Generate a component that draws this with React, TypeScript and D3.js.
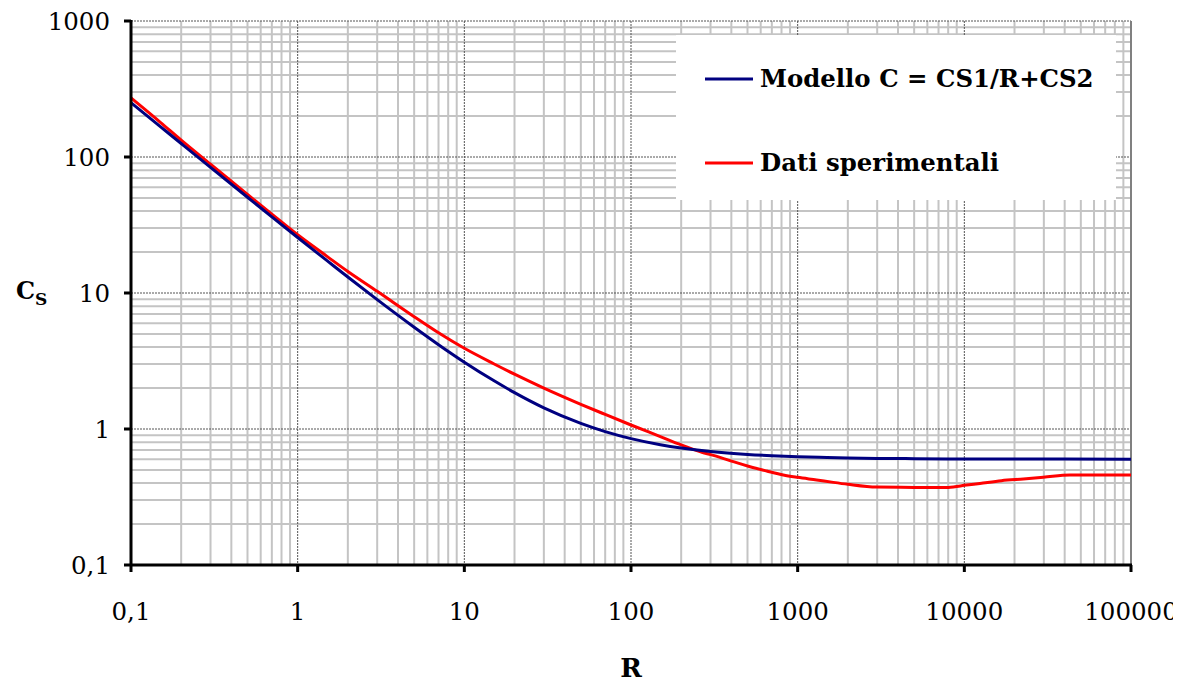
import React from "react";
import * as d3 from "d3";

// Resistance ratio R (x) for the fitted model, log scale
const modelR = [
  0.1, 0.15, 0.2, 0.3, 0.5, 0.7, 1, 1.5, 2, 3, 5, 7, 10, 15, 20, 30, 50, 70, 100,
  150, 200, 300, 500, 700, 1000, 1500, 2000, 3000, 5000, 8000, 10000, 15000,
  25000, 40000, 100000,
];

// Model C = CS1/R + CS2
const modelC = [
  250.6, 167.3, 125.6, 83.9, 50.6, 36.3, 25.6, 17.3, 13.1, 8.93, 5.6, 4.17, 3.1,
  2.27, 1.85, 1.43, 1.1, 0.957, 0.85, 0.767, 0.725, 0.683, 0.65, 0.636, 0.625,
  0.617, 0.6125, 0.608, 0.605, 0.603, 0.6025, 0.6017, 0.601, 0.6006, 0.6003,
];

// Experimental data
const expR = [
  0.1, 0.15, 0.2, 0.3, 0.5, 0.7, 1, 1.5, 2, 3, 5, 7, 10, 15, 20, 30, 50, 70, 100,
  150, 200, 259, 342, 411, 518, 652, 820, 1000, 1300, 1636, 2000, 2980, 5000,
  8020, 10320, 12400, 16700, 22600, 29800, 43000, 100000,
];
const expC = [
  272, 180, 133, 88.5, 53, 38, 26.8, 18.6, 14.4, 10.3, 6.7, 5.1, 3.92, 3.02,
  2.53, 2.0, 1.52, 1.28, 1.07, 0.88, 0.765, 0.683, 0.619, 0.575, 0.528, 0.491,
  0.459, 0.441, 0.422, 0.405, 0.392, 0.374, 0.372, 0.372, 0.387, 0.398, 0.417,
  0.429, 0.441, 0.459, 0.459,
];

const xTickValues = [0.1, 1, 10, 100, 1000, 10000, 100000];
const xTickLabels = ["0,1", "1", "10", "100", "1000", "10000", "100000"];
const yTickValues = [0.1, 1, 10, 100, 1000];
const yTickLabels = ["0,1", "1", "10", "100", "1000"];

const legendItems = [
  { label: "Modello C = CS1/R+CS2", color: "#000080" },
  { label: "Dati sperimentali", color: "#ff0000" },
];

const W = 1194;
const H = 684;
const left = 131;
const right = 1131;
const top = 21;
const bottom = 565;

const serif = "'DejaVu Serif', serif";

export default function App() {
  const x = d3.scaleLog().domain([0.1, 100000]).range([left, right]);
  const y = d3.scaleLog().domain([0.1, 1000]).range([bottom, top]);

  const minorX: number[] = [];
  for (let d = 0.1; d < 100000; d *= 10) {
    for (let m = 2; m <= 9; m++) minorX.push(+(m * d).toPrecision(6));
  }
  const minorY: number[] = [];
  for (let d = 0.1; d < 1000; d *= 10) {
    for (let m = 2; m <= 9; m++) minorY.push(+(m * d).toPrecision(6));
  }

  const line = d3
    .line<[number, number]>()
    .x((p) => x(p[0]))
    .y((p) => y(p[1]))
    .curve(d3.curveMonotoneX);

  const modelPts = modelR.map((r, i) => [r, modelC[i]] as [number, number]);
  const expPts = expR.map((r, i) => [r, expC[i]] as [number, number]);

  return (
    <svg
      width={W}
      height={H}
      style={{ position: "absolute", left: 0, top: 0, background: "#fff" }}
    >
      <defs>
        <clipPath id="pageClip">
          <rect x={0} y={0} width={1173} height={H} />
        </clipPath>
      </defs>

      {/* minor grid */}
      <g stroke="#c4c4c4" strokeWidth={2}>
        {minorX.map((v) => (
          <line key={"mx" + v} x1={x(v)} x2={x(v)} y1={top} y2={bottom} />
        ))}
        {minorY.map((v) => (
          <line key={"my" + v} x1={left} x2={right} y1={y(v)} y2={y(v)} />
        ))}
      </g>

      {/* decade grid */}
      <g stroke="#555" strokeWidth={1} strokeDasharray="2,1">
        {xTickValues.slice(1, -1).map((v) => (
          <line key={"Mx" + v} x1={x(v)} x2={x(v)} y1={top} y2={bottom} />
        ))}
        {yTickValues.slice(1).map((v) => (
          <line key={"My" + v} x1={left} x2={right} y1={y(v)} y2={y(v)} />
        ))}
      </g>

      {/* right frame */}
      <line x1={right} x2={right} y1={top} y2={bottom} stroke="#808080" strokeWidth={2} />

      {/* legend */}
      <rect x={676} y={35} width={440} height={165} fill="#fff" />
      {legendItems.map((it, i) => {
        const ly = 79 + i * 84;
        return (
          <g key={it.label}>
            <line x1={705} x2={753} y1={ly} y2={ly} stroke={it.color} strokeWidth={3} />
            <text
              x={760}
              y={ly + 8}
              fontFamily={serif}
              fontWeight="bold"
              fontSize={24.4}
              fill="#000"
            >
              {it.label}
            </text>
          </g>
        );
      })}

      {/* series */}
      <path d={line(expPts) || ""} fill="none" stroke="#ff0000" strokeWidth={3} />
      <path d={line(modelPts) || ""} fill="none" stroke="#000080" strokeWidth={3} />

      {/* axes */}
      <g stroke="#000" strokeWidth={3}>
        <line x1={left} x2={left} y1={top - 1} y2={bottom + 1} />
        <line x1={left - 1} x2={right + 1} y1={bottom} y2={bottom} />
        {yTickValues.map((v) => (
          <line key={"yt" + v} x1={left - 7} x2={left} y1={y(v)} y2={y(v)} />
        ))}
        {xTickValues.map((v) => (
          <line key={"xt" + v} x1={x(v)} x2={x(v)} y1={bottom} y2={bottom + 7} />
        ))}
      </g>

      {/* tick labels */}
      <g fontFamily={serif} fontSize={24.5} fill="#000">
        {yTickValues.map((v, i) => (
          <text key={"yl" + v} x={110} y={y(v)} textAnchor="end" dominantBaseline="central">
            {yTickLabels[i]}
          </text>
        ))}
        <g clipPath="url(#pageClip)">
          {xTickValues.map((v, i) => (
            <text key={"xl" + v} x={x(v)} y={611} textAnchor="middle" dominantBaseline="central">
              {xTickLabels[i]}
            </text>
          ))}
        </g>
      </g>

      {/* axis titles */}
      <text
        x={631}
        y={677}
        textAnchor="middle"
        fontFamily={serif}
        fontWeight="bold"
        fontSize={26}
      >
        R
      </text>
      <text x={16} y={299} fontFamily={serif} fontWeight="bold" fontSize={24}>
        C
        <tspan fontSize={17} dy={6}>
          S
        </tspan>
      </text>
    </svg>
  );
}
